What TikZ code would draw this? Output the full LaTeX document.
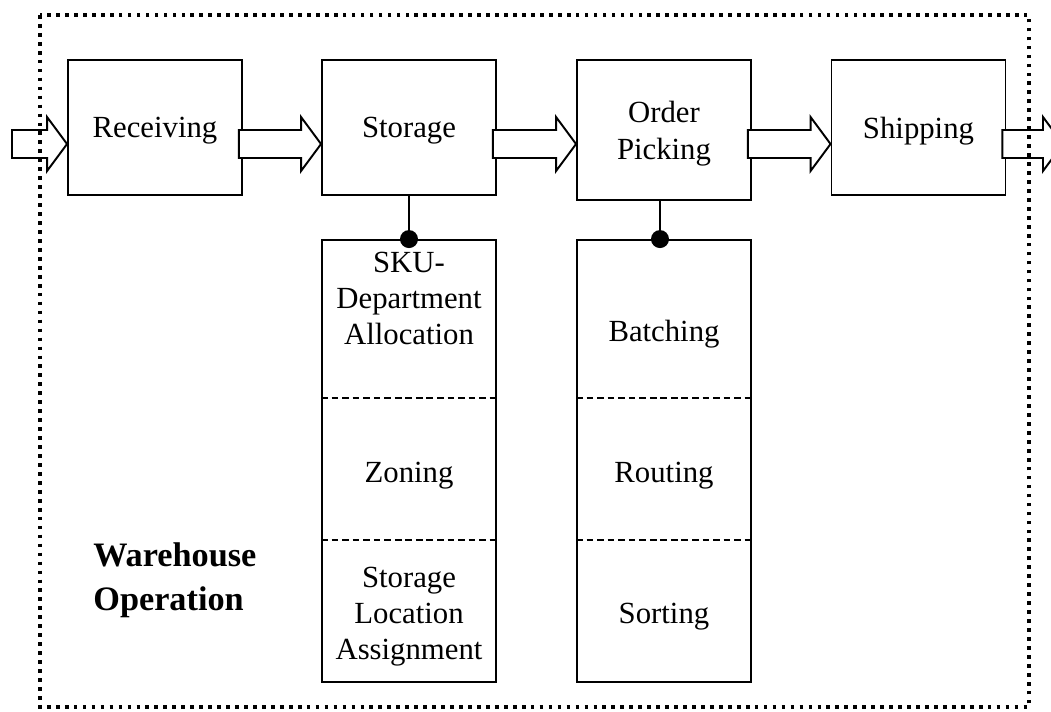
\documentclass[tikz,border=0pt]{standalone}
\usepackage{fontspec}
\setmainfont{Liberation Serif}
\usetikzlibrary{calc}

% hollow block arrow, shaft centred on the level of (ar)
\newcommand{\blockarrow}[2]{%
  \draw[flow] ($(#1 |- ar)+(-4,-14)$) -- ($(#2 |- ar)+(-20,-14)$) -- ($(#2 |- ar)+(-20,-27)$)
    -- (#2 |- ar) -- ($(#2 |- ar)+(-20,27)$) -- ($(#2 |- ar)+(-20,14)$)
    -- ($(#1 |- ar)+(-4,14)$) -- cycle;}

\begin{document}
\begin{tikzpicture}[
  x=0.02cm, y=-0.02cm,
  every node/.style={font=\fontsize{17.5}{20.4}\selectfont},
  stage/.style={draw, line width=1.1pt, minimum width=3.48cm, minimum height=2.7cm,
                align=center, inner sep=0pt, text depth=0pt},
  subbox/.style={draw, line width=1.1pt, minimum width=3.48cm, minimum height=8.84cm,
                 inner sep=0pt},
  lbl/.style={align=center, inner sep=0pt, text depth=0pt},
  flow/.style={draw, line width=1.1pt, fill=white, line join=miter},
  sep/.style={line width=1.15pt, dash pattern=on 3.8pt off 2.2pt},
  link/.style={line width=1.1pt}
]
  \useasboundingbox (0,0) rectangle (1051,711);

  % main stages
  \node[stage] (rec) at (155,127.5) {Receiving};
  \node[stage] (sto) at (409,127.5) {Storage};
  \node[stage, minimum height=2.8cm, font=\fontsize{17.5}{21}\selectfont] (ord) at (664,130) {Order\\Picking};
  \node[stage] (shp) at (918.5,127.5) {Shipping};

  \coordinate (ar)  at (0,144);
  \coordinate (in)  at (16,144);
  \coordinate (out) at (1063,144);

  \blockarrow{in}{rec.west}
  \blockarrow{rec.east}{sto.west}
  \blockarrow{sto.east}{ord.west}
  \blockarrow{ord.east}{shp.west}
  \blockarrow{shp.east}{out}

  % storage sub-decisions
  \node[subbox] (sb) at (409,461) {};
  \draw[sep] ($(sb.north west)!0.357!(sb.south west)$) -- ($(sb.north east)!0.357!(sb.south east)$);
  \draw[sep] ($(sb.north west)!0.679!(sb.south west)$) -- ($(sb.north east)!0.679!(sb.south east)$);
  \node[lbl] (sku) at (409,298) {SKU-\\Department\\Allocation};
  \node[lbl] (zon) at (409,472) {Zoning};
  \node[lbl] (sla) at (409,613) {Storage\\Location\\Assignment};

  % order picking sub-decisions
  \node[subbox] (pb) at (664,461) {};
  \draw[sep] ($(pb.north west)!0.357!(pb.south west)$) -- ($(pb.north east)!0.357!(pb.south east)$);
  \draw[sep] ($(pb.north west)!0.679!(pb.south west)$) -- ($(pb.north east)!0.679!(pb.south east)$);
  \node[lbl] (bat) at (664,331) {Batching};
  \node[lbl] (rou) at (664,472) {Routing};
  \node[lbl] (sor) at (664,613) {Sorting};

  % links
  \draw[link] (sto.south) -- (sb.north);
  \fill (sb.north) circle (9);
  \draw[link] ($(ord.south)+(-4,0)$) -- ($(pb.north)+(-4,0)$);
  \fill ($(pb.north)+(-4,0)$) circle (9);

  \node[anchor=west, align=left, inner sep=0pt,
        font=\fontsize{19.5}{25}\selectfont\bfseries] (wo) at (93,580) {Warehouse\\Operation};

  % outer frame, drawn last so it runs over the in/out arrows
  \draw[line width=2.1pt, dash pattern=on 2.1pt off 3pt] (40,15) rectangle (1029,707);
\end{tikzpicture}
\end{document}
